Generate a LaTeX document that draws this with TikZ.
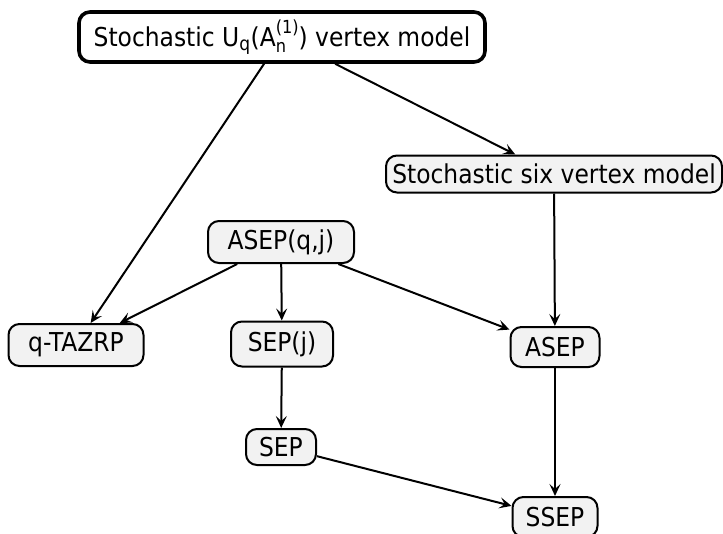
\documentclass[tikz,border=0pt]{standalone}
\usepackage{fontspec}
\setmainfont{DejaVu Sans Condensed}
\usetikzlibrary{arrows.meta}

\tikzset{
  model/.style={draw,line width=2pt,rounded corners=11pt,fill=gray!10,
    inner xsep=6pt,inner ysep=3pt,minimum height=40pt,
    font=\fontsize{26}{30}\selectfont},
  topmodel/.style={model,line width=3.6pt,fill=white,minimum height=50pt},
  reduce/.style={line width=2pt,-{Stealth[length=12pt,width=11pt,inset=5pt]}}
}

\begin{document}
\begin{tikzpicture}[x=1pt,y=-1pt]
\path[use as bounding box] (0,0) rectangle (723,533);
\node[topmodel,minimum width=406pt] (vertex) at (282,37) {Stochastic U\textsubscript{\fontsize{19}{19}\selectfont q}(A\makebox[0pt][l]{\raisebox{-0.4ex}{\fontsize{18}{18}\selectfont n}}\raisebox{0.9ex}{\fontsize{18}{18}\selectfont (1)}) vertex model};
\node[model,minimum width=336pt,minimum height=37pt] (six) at (554,174) {Stochastic six vertex model};
\node[model,minimum width=146pt,minimum height=42pt] (asepqj) at (281,242) {ASEP(q,j)};
\node[model,minimum width=135pt,minimum height=42pt] (tazrp) at (76,345) {q-TAZRP};
\node[model,minimum width=102pt,minimum height=45pt] (sepj) at (282,344) {SEP(j)};
\node[model,minimum width=89pt] (asep) at (555,347) {ASEP};
\node[model,minimum width=70pt,minimum height=36pt] (sep) at (281,447) {SEP};
\node[model,minimum width=85pt] (ssep) at (555,517) {SSEP};
\draw[reduce] (vertex) -- (tazrp);
\draw[reduce] (vertex) -- (six);
\draw[reduce] (asepqj) -- (tazrp);
\draw[reduce] (asepqj) -- (sepj);
\draw[reduce] (asepqj) -- (asep);
\draw[reduce] (six) -- (asep);
\draw[reduce] (sepj) -- (sep);
\draw[reduce] (sep) -- (ssep);
\draw[reduce] (asep) -- (ssep);
\end{tikzpicture}
\end{document}
